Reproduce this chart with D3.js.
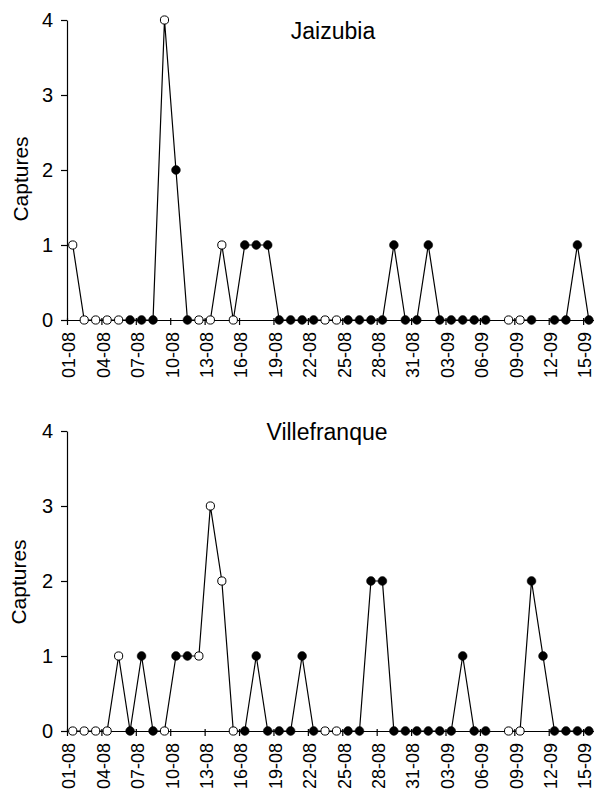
<!DOCTYPE html>
<html>
<head>
<meta charset="utf-8">
<script src="https://cdn.jsdelivr.net/npm/d3@7/dist/d3.min.js"></script>
<style>
  html, body { margin: 0; padding: 0; background: #fff; }
  svg text { font-family: "Liberation Sans", Arial, sans-serif; fill: #000; }
</style>
</head>
<body>
<svg id="chart" width="594" height="794"></svg>
<script>
// ---- Data ----
const dates = [
  "01-08","02-08","03-08","04-08","05-08","06-08","07-08","08-08","09-08","10-08",
  "11-08","12-08","13-08","14-08","15-08","16-08","17-08","18-08","19-08","20-08",
  "21-08","22-08","23-08","24-08","25-08","26-08","27-08","28-08","29-08","30-08",
  "31-08","01-09","02-09","03-09","04-09","05-09","06-09","07-09","08-09","09-09",
  "10-09","11-09","12-09","13-09","14-09","15-09"
];
const tickLabels = ["01-08","04-08","07-08","10-08","13-08","16-08","19-08","22-08",
  "25-08","28-08","31-08","03-09","06-09","09-09","12-09","15-09"];
const yTicks = [0, 1, 2, 3, 4];

// capture counts per day (null = no trapping)
const jaizubiaCaptures = [1,0,0,0,0,0,0,0,4,2, 0,0,0,1,0,1,1,1,0,0, 0,0,0,0,0,0,0,0,1,0,
  0,1,0,0,0,0,0,null,0,0, 0,null,0,0,1,0];
// 1 = open marker, 0 = filled marker
const jaizubiaOpen = [1,1,1,1,1,0,0,0,1,0, 0,1,1,1,1,0,0,0,0,0, 0,0,1,1,0,0,0,0,0,0,
  0,0,0,0,0,0,0,0,1,1, 0,0,0,0,0,0];

const villefranqueCaptures = [0,0,0,0,1,0,1,0,0,1, 1,1,3,2,0,0,1,0,0,0, 1,0,0,0,0,0,2,2,0,0,
  0,0,0,0,1,0,0,null,0,0, 2,1,0,0,0,0];
const villefranqueOpen = [1,1,1,1,1,0,0,0,1,0, 0,1,1,1,1,0,0,0,0,0, 0,0,1,1,0,0,0,0,0,0,
  0,0,0,0,0,0,0,0,1,1, 0,0,0,0,0,0];

const yLabel = "Captures";

// ---- Layout ----
const svg = d3.select("#chart");
const x = d3.scaleLinear().domain([0, dates.length]).range([67, 594.6]);

const panels = [
  { title: "Jaizubia", values: jaizubiaCaptures, open: jaizubiaOpen,
    yRange: [320, 20], titleX: 333, titleY: 39, labelY: 179, labelX: 28 },
  { title: "Villefranque", values: villefranqueCaptures, open: villefranqueOpen,
    yRange: [731, 431], titleX: 327, titleY: 440, labelY: 582, labelX: 26 }
];

panels.forEach(p => {
  const y = d3.scaleLinear().domain([0, 4]).range(p.yRange);
  const g = svg.append("g");

  // Y axis
  const yAxis = d3.axisLeft(y).tickValues(yTicks).tickFormat(d3.format("d"))
    .tickSizeInner(6).tickSizeOuter(0).tickPadding(8);
  const ya = g.append("g").attr("transform", `translate(${x(0)},0)`).call(yAxis);
  ya.select(".domain").attr("stroke", "#000").attr("stroke-width", 1.2);
  ya.selectAll(".tick line").attr("stroke", "#000").attr("stroke-width", 1.2);
  ya.selectAll(".tick text").attr("font-size", 20).attr("font-family", "Liberation Sans, Arial, sans-serif");

  // X axis
  const tickIdx = tickLabels.map(t => dates.indexOf(t));
  const xAxis = d3.axisBottom(x).tickValues(tickIdx).tickFormat(i => dates[i])
    .tickSizeInner(5).tickSizeOuter(0);
  const xa = g.append("g").attr("transform", `translate(0,${y(0)})`).call(xAxis);
  xa.select(".domain").attr("stroke", "#000").attr("stroke-width", 1.2);
  xa.selectAll(".tick line").attr("stroke", "#000").attr("stroke-width", 1.2).attr("y1", -2);
  xa.selectAll(".tick text")
    .attr("font-size", 18)
    .attr("font-family", "Liberation Sans, Arial, sans-serif")
    .attr("text-anchor", "end")
    .attr("transform", "translate(1.5,12) rotate(-90)")
    .attr("x", 0).attr("y", 0).attr("dy", "0.35em");

  // Line
  const line = d3.line()
    .defined(d => d != null)
    .x((d, i) => x(i + 0.5))
    .y(d => y(d));
  g.append("path").datum(p.values)
    .attr("d", line).attr("fill", "none").attr("stroke", "#000").attr("stroke-width", 1.2);

  // Markers
  const pts = p.values.map((v, i) => ({ v, i, open: p.open[i] })).filter(d => d.v != null);
  g.selectAll("circle.m").data(pts).enter().append("circle")
    .attr("class", "m")
    .attr("cx", d => x(d.i + 0.5))
    .attr("cy", d => y(d.v))
    .attr("r", d => d.open ? 4.1 : 4.4)
    .attr("fill", d => d.open ? "#fff" : "#000")
    .attr("stroke", "#000")
    .attr("stroke-width", d => d.open ? 1 : 0.5);

  // Title
  g.append("text").attr("x", p.titleX).attr("y", p.titleY)
    .attr("text-anchor", "middle").attr("font-size", 23).text(p.title);

  // Y label
  g.append("text")
    .attr("transform", `translate(${p.labelX},${p.labelY}) rotate(-90)`)
    .attr("text-anchor", "middle").attr("font-size", 21).text(yLabel);
});
</script>
</body>
</html>
